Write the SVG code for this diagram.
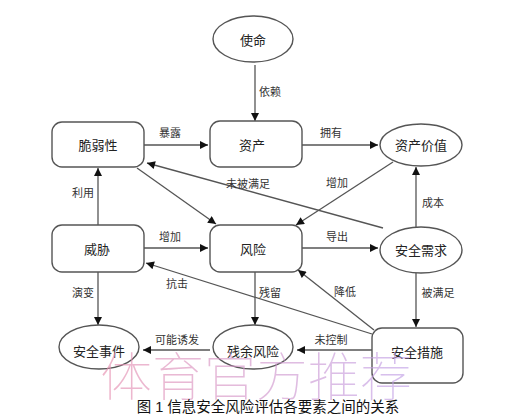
<svg xmlns="http://www.w3.org/2000/svg" width="523" height="418" viewBox="0 0 523 418">
<style>
.n{fill:#fff;stroke:#555;stroke-width:1.4}
.t{font-family:"Liberation Sans","Noto Sans CJK SC",sans-serif;font-size:13px;fill:#222;text-anchor:middle;dominant-baseline:central}
.l{font-family:"Liberation Sans","Noto Sans CJK SC",sans-serif;font-size:11px;fill:#333;text-anchor:middle;dominant-baseline:central}
.e{stroke:#555;stroke-width:1.3;fill:none;marker-end:url(#ah)}
.cap{font-family:"Liberation Sans","Noto Sans CJK SC",sans-serif;font-size:14.5px;fill:#111;text-anchor:middle}
.wm{font-family:"Noto Sans CJK SC",sans-serif;font-weight:100;font-size:52px;text-anchor:middle;fill:url(#wg);opacity:0.65}
</style>
<defs>
<marker id="ah" viewBox="0 0 10 10" refX="10" refY="5" markerWidth="9" markerHeight="8" markerUnits="userSpaceOnUse" orient="auto">
<path d="M0,0 L10,5 L0,10 z" fill="#111"/>
</marker>
<linearGradient id="wg" x1="0" y1="0" x2="1" y2="0">
<stop offset="0" stop-color="#e890b0"/>
<stop offset="1" stop-color="#c0a0e8"/>
</linearGradient>
</defs>
<rect width="523" height="418" fill="#fff"/>
<g id="connectors">
<line class="e" x1="255" y1="65" x2="255" y2="121"/>
<text class="l" x="270" y="92">依赖</text>
<line class="e" x1="144" y1="145" x2="208" y2="145"/>
<text class="l" x="170" y="133">暴露</text>
<line class="e" x1="302" y1="145" x2="378" y2="145"/>
<text class="l" x="331" y="133">拥有</text>
<line class="e" x1="98" y1="225" x2="98" y2="168"/>
<text class="l" x="83" y="193">利用</text>
<line class="e" x1="137" y1="168" x2="216" y2="224"/>
<line class="e" x1="383" y1="228" x2="147" y2="163"/>
<text class="l" x="248" y="184">未被满足</text>
<line class="e" x1="393" y1="162" x2="296" y2="225"/>
<text class="l" x="337" y="183">增加</text>
<line class="e" x1="416" y1="227" x2="416" y2="167"/>
<text class="l" x="433" y="203">成本</text>
<line class="e" x1="144" y1="248" x2="208" y2="248"/>
<text class="l" x="170" y="237">增加</text>
<line class="e" x1="302" y1="248" x2="378" y2="248"/>
<text class="l" x="337" y="237">导出</text>
<line class="e" x1="98" y1="272" x2="98" y2="325"/>
<text class="l" x="83" y="293">演变</text>
<line class="e" x1="255" y1="272" x2="255" y2="325"/>
<text class="l" x="270" y="293">残留</text>
<line class="e" x1="416" y1="273" x2="416" y2="327"/>
<text class="l" x="438" y="293">被满足</text>
<line class="e" x1="372" y1="334" x2="146" y2="263"/>
<text class="l" x="177" y="284">抗击</text>
<line class="e" x1="374" y1="330" x2="298" y2="270"/>
<text class="l" x="345" y="292">降低</text>
<line class="e" x1="210" y1="350" x2="143" y2="350"/>
<text class="l" x="177" y="340">可能诱发</text>
<line class="e" x1="372" y1="350" x2="297" y2="350"/>
<text class="l" x="331" y="340">未控制</text>
</g>
<g id="shiming"><ellipse class="n" cx="253" cy="39" rx="40" ry="23"/><text class="t" x="253" y="40">使命</text></g>
<g id="cuiruoxing"><rect class="n" x="52" y="122" width="92" height="45" rx="10"/><text class="t" x="98" y="145">脆弱性</text></g>
<g id="zichan"><rect class="n" x="210" y="121" width="92" height="46" rx="10"/><text class="t" x="252" y="145">资产</text></g>
<g id="zichanjiazhi"><ellipse class="n" cx="421" cy="145" rx="41" ry="21"/><text class="t" x="421" y="145">资产价值</text></g>
<g id="weixie"><rect class="n" x="52" y="225" width="92" height="47" rx="10"/><text class="t" x="97" y="249">威胁</text></g>
<g id="fengxian"><rect class="n" x="210" y="225" width="92" height="47" rx="10"/><text class="t" x="253" y="249">风险</text></g>
<g id="anquanxuqiu"><ellipse class="n" cx="421" cy="250" rx="41" ry="23"/><text class="t" x="421" y="250">安全需求</text></g>
<g id="anquanshijian"><ellipse class="n" cx="99" cy="347" rx="40" ry="22"/><text class="t" x="99" y="351">安全事件</text></g>
<g id="canyufengxian"><ellipse class="n" cx="253" cy="347" rx="40" ry="22"/><text class="t" x="253" y="351">残余风险</text></g>
<g id="anquancuoshi"><rect class="n" x="372" y="328" width="91" height="55" rx="10"/><text class="t" x="417" y="352">安全措施</text></g>
<text class="wm" x="256" y="396">体育官方推荐</text>
<text class="cap" x="268" y="412">图 1 信息安全风险评估各要素之间的关系</text>
</svg>
